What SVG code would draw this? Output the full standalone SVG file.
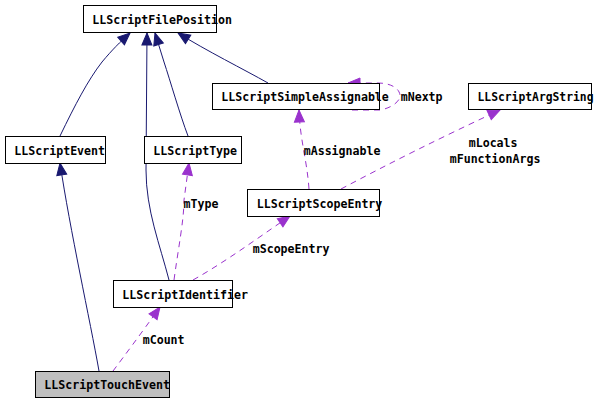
<svg xmlns="http://www.w3.org/2000/svg" width="595" height="402" viewBox="0 0 595 402">
<style>
.box{fill:#fff;stroke:#000;stroke-width:1}
.t{font-family:"DejaVu Sans Mono","Liberation Mono",monospace;font-weight:bold;font-size:11.6px;fill:#000}
.inh{fill:none;stroke:#191970;stroke-width:1}
.use{fill:none;stroke:#9a32cd;stroke-width:1;stroke-dasharray:6,5}
</style>
<defs>
<marker id="an" markerUnits="userSpaceOnUse" markerWidth="14" markerHeight="12" refX="12" refY="5" orient="auto" overflow="visible">
<path d="M0,0 L12,5 L0,10 z" fill="#191970" stroke="#191970"/>
</marker>
<marker id="ap" markerUnits="userSpaceOnUse" markerWidth="14" markerHeight="12" refX="12" refY="5" orient="auto" overflow="visible">
<path d="M0,0 L12,5 L0,10 z" fill="#9a32cd" stroke="#9a32cd"/>
</marker>
</defs>
<rect width="595" height="402" fill="#fff"/>
<g id="connectors">
<path class="inh" d="M60,136 C75,105 88,80 102,62 C112,50 120,42 130,33" marker-end="url(#an)"/>
<path class="inh" d="M169,280 C160,245 146,210 146,170 L147,33" marker-end="url(#an)"/>
<path class="inh" d="M188,136 C180,115 170,80 164,62 L155,33" marker-end="url(#an)"/>
<path class="inh" d="M268,83 C245,70 205,50 178,33" marker-end="url(#an)"/>
<path class="inh" d="M99,371 C90,320 70,230 60,163" marker-end="url(#an)"/>
<path class="use" d="M309,189 C307,160 300,140 299,110" marker-end="url(#ap)"/>
<path class="use" d="M341,189 C390,163 440,138 500,110" marker-end="url(#ap)"/>
<path class="use" d="M352,110 L380,110 C392,108 400,101 400,96 C400,88 390,83 378,83 L348,83" marker-end="url(#ap)"/>
<path class="use" d="M174,280 C178,250 184,220 184,200 L189,163" marker-end="url(#ap)"/>
<path class="use" d="M193,280 C225,262 255,240 290,216" marker-end="url(#ap)"/>
<path class="use" d="M113,371 C125,355 140,335 160,307" marker-end="url(#ap)"/>
<text class="t" x="400.7" y="101">mNextp</text>
<text class="t" x="303.7" y="154.5">mAssignable</text>
<text class="t" x="468.7" y="147">mLocals</text>
<text class="t" x="449.7" y="163">mFunctionArgs</text>
<text class="t" x="183.5" y="208">mType</text>
<text class="t" x="252.7" y="253">mScopeEntry</text>
<text class="t" x="142.7" y="343.5">mCount</text>
</g>
<g id="LLScriptFilePosition">
<rect class="box" x="83.5" y="5.5" width="133" height="27"/>
<text class="t" x="92.3" y="24">LLScriptFilePosition</text>
</g>
<g id="LLScriptEvent">
<rect class="box" x="5.5" y="136.5" width="100" height="27"/>
<text class="t" x="14.3" y="155.3">LLScriptEvent</text>
</g>
<g id="LLScriptType">
<rect class="box" x="144.5" y="136.5" width="97" height="27"/>
<text class="t" x="153.3" y="155.3">LLScriptType</text>
</g>
<g id="LLScriptSimpleAssignable">
<rect class="box" x="212.5" y="83.5" width="167" height="26"/>
<text class="t" x="221.3" y="101">LLScriptSimpleAssignable</text>
</g>
<g id="LLScriptArgString">
<rect class="box" x="468.5" y="83.5" width="123" height="26"/>
<text class="t" x="477.5" y="101" textLength="116" lengthAdjust="spacingAndGlyphs">LLScriptArgString</text>
</g>
<g id="LLScriptScopeEntry">
<rect class="box" x="247.5" y="189.5" width="132" height="27"/>
<text class="t" x="256.7" y="208">LLScriptScopeEntry</text>
</g>
<g id="LLScriptIdentifier">
<rect class="box" x="113.5" y="280.5" width="119" height="27"/>
<text class="t" x="122.3" y="298.7">LLScriptIdentifier</text>
</g>
<g id="LLScriptTouchEvent">
<rect class="box" x="35.5" y="371.5" width="134" height="26" fill="#bfbfbf" style="fill:#bfbfbf"/>
<text class="t" x="44.3" y="389">LLScriptTouchEvent</text>
</g>
</svg>
